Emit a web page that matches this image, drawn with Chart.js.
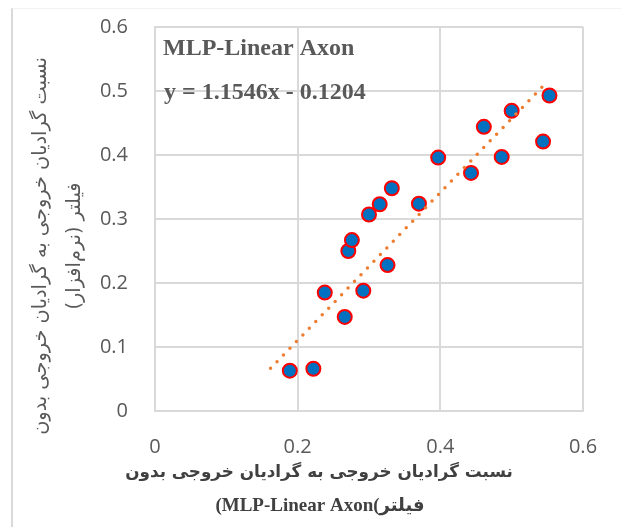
<!DOCTYPE html>
<html><head><meta charset="utf-8">
<script src="https://cdn.jsdelivr.net/npm/chart.js@4/dist/chart.umd.min.js"></script>
<style>
html,body{margin:0;padding:0;background:#fff;}
#wrap{position:relative;width:621px;height:527px;overflow:hidden;background:#fff;}
#frame{position:absolute;left:11px;top:8px;right:0;bottom:0;border-left:2px solid #d9d9d9;border-top:1px solid #f2f2f2;pointer-events:none;}
canvas{position:absolute;left:0;top:0;}
</style></head><body>
<div id="wrap"><canvas id="c" width="621" height="527"></canvas><div id="frame"></div></div>
<script>
// ---- data ----
const xValues = [0.189, 0.222, 0.238, 0.266, 0.292, 0.271, 0.276, 0.326, 0.300, 0.315, 0.332, 0.370, 0.397, 0.443, 0.461, 0.486, 0.500, 0.544, 0.553];
const yValues = [0.063, 0.066, 0.185, 0.147, 0.188, 0.250, 0.267, 0.228, 0.307, 0.323, 0.348, 0.324, 0.396, 0.372, 0.444, 0.397, 0.469, 0.421, 0.493];
const xTicks = [0, 0.2, 0.4, 0.6];
const yTicks = [0, 0.1, 0.2, 0.3, 0.4, 0.5, 0.6];
const trendSlope = 1.1546;
const trendIntercept = -0.1204;
const trendXRange = [0.162, 0.550];
const seriesLabel = 'MLP-Linear Axon';
const equationLabel = 'y = 1.1546x - 0.1204';
const yTitleLines = ['نسبت گرادیان خروجی به گرادیان خروجی بدون', 'فیلتر (نرم‌افزار)'];
const xTitleLine1 = 'نسبت گرادیان خروجی به گرادیان خروجی بدون';
const xTitleLine2Latin = '(MLP-Linear Axon(';
const xTitleLine2Arabic = 'فیلتر';

const points = xValues.map((x, i) => ({x: x, y: yValues[i]}));
const trendPoints = trendXRange.map(x => ({x: x, y: trendSlope * x + trendIntercept}));

function fitSize(ctx, text, weight, family, target) {
  ctx.font = weight + ' 20px ' + family;
  const w = ctx.measureText(text).width;
  return 20 * target / w;
}

const textPlugin = {
  id: 'texts',
  afterDraw(chart) {
    const ctx = chart.ctx;
    const a = chart.chartArea;
    ctx.save();
    // annotation
    ctx.fillStyle = '#595959';
    ctx.textAlign = 'left';
    ctx.textBaseline = 'alphabetic';
    ctx.font = 'bold 24px "Liberation Serif", "Times New Roman", serif';
    ctx.fillText(seriesLabel, a.left + 8, a.top + 28);
    ctx.fillText(equationLabel, a.left + 9, a.top + 72);

    // y title (rotated)
    const arFam = '"DejaVu Sans", sans-serif';
    ctx.fillStyle = '#595959';
    const ySize = fitSize(ctx, yTitleLines[0], 'normal', arFam, 378);
    ctx.font = 'normal ' + ySize.toFixed(2) + 'px ' + arFam;
    ctx.direction = 'rtl';
    ctx.textAlign = 'center';
    ctx.textBaseline = 'middle';
    [[41, yTitleLines[0]], [75, yTitleLines[1]]].forEach(([x, t]) => {
      ctx.save();
      ctx.translate(x, 246);
      ctx.rotate(-Math.PI / 2);
      ctx.fillText(t, 0, 0);
      ctx.restore();
    });

    // x title
    ctx.fillStyle = '#404040';
    const xSize = fitSize(ctx, xTitleLine1, 'bold', arFam, 388);
    ctx.font = 'bold ' + xSize.toFixed(2) + 'px ' + arFam;
    ctx.direction = 'rtl';
    ctx.textAlign = 'center';
    ctx.fillText(xTitleLine1, 319, 473);
    // second line: Latin part then Arabic part, drawn side by side
    ctx.direction = 'ltr';
    ctx.textAlign = 'left';
    const latinFont = 'bold 19px "Liberation Serif", serif';
    const arabicFont = 'bold 18px ' + arFam;
    ctx.font = latinFont;
    const wl = ctx.measureText(xTitleLine2Latin).width;
    ctx.font = arabicFont;
    const wa = ctx.measureText(xTitleLine2Arabic).width;
    const x0 = 320 - (wl + wa) / 2;
    ctx.font = latinFont;
    ctx.fillText(xTitleLine2Latin, x0, 506);
    ctx.font = arabicFont;
    ctx.direction = 'rtl';
    ctx.textAlign = 'right';
    ctx.fillText(xTitleLine2Arabic, x0 + wl + wa, 506);
    ctx.restore();
  }
};

const gridColor = '#d9d9d9';
const tickFont = {family: '"Open Sans", "Liberation Sans", sans-serif', size: 20};

new Chart(document.getElementById('c'), {
  type: 'scatter',
  data: {
    datasets: [
      {
        label: 'trend',
        data: trendPoints,
        showLine: true,
        borderColor: '#ED7D31',
        borderWidth: 3.5,
        borderDash: [0, 9.3],
        borderCapStyle: 'round',
        pointRadius: 0,
        fill: false,
        order: 0
      },
      {
        label: seriesLabel,
        data: points,
        backgroundColor: '#0070C0',
        borderColor: '#FF0000',
        borderWidth: 2,
        pointRadius: 7,
        pointHoverRadius: 7,
        order: 1
      }
    ]
  },
  options: {
    responsive: false,
    animation: false,
    events: [],
    layout: {padding: {top: 27, right: 38, left: 0, bottom: 0}},
    plugins: {legend: {display: false}, tooltip: {enabled: false}},
    scales: {
      x: {
        type: 'linear', min: 0, max: 0.6,
        afterBuildTicks: s => { s.ticks = xTicks.map(v => ({value: v})); },
        afterFit: s => { s.height = 116; s.paddingLeft = 0; s.paddingRight = 0; },
        grid: {color: gridColor, lineWidth: 2, drawTicks: false},
        border: {color: gridColor, width: 2},
        ticks: {font: tickFont, color: '#595959', padding: 24, callback: v => String(v), maxRotation: 0}
      },
      y: {
        type: 'linear', min: 0, max: 0.6,
        afterBuildTicks: s => { s.ticks = yTicks.map(v => ({value: v})); },
        afterFit: s => { s.width = 155; s.paddingTop = 0; s.paddingBottom = 0; },
        grid: {color: gridColor, lineWidth: 2, drawTicks: false},
        border: {color: gridColor, width: 2},
        ticks: {font: tickFont, color: '#595959', padding: 27, callback: v => String(v)}
      }
    }
  },
  plugins: [textPlugin]
});
</script>
</body></html>
